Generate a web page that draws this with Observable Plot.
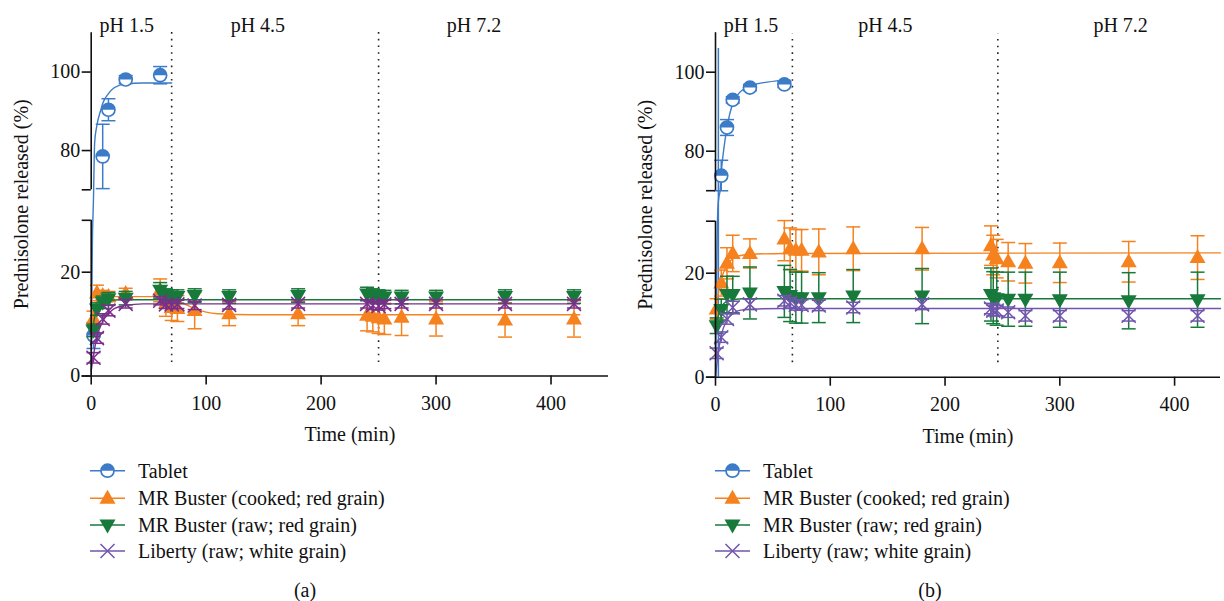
<!DOCTYPE html>
<html><head><meta charset="utf-8">
<script src="https://cdn.jsdelivr.net/npm/d3@7"></script>
<script src="https://cdn.jsdelivr.net/npm/@observablehq/plot@0.6"></script>
<style>
body{margin:0;background:#fff;}
#wrap{position:relative;width:1224px;height:601px;font-family:"Liberation Serif",serif;color:#111;}
#wrap svg{position:absolute;top:0;}
</style></head><body><div id="wrap"></div>
<script>
// ---------- shared labels ----------
const seriesNames = ["Tablet", "MR Buster (cooked; red grain)", "MR Buster (raw; red grain)", "Liberty (raw; white grain)"];
const colorsA = ["#3b7bc8", "#f5821f", "#177a3b", "#7b2e8c"];
const colorsB = ["#3b7bc8", "#f5821f", "#177a3b", "#7055ad"];
const phLabels = ["pH 1.5", "pH 4.5", "pH 7.2"];
const phLabelTimeA = [31, 145, 333];
const phLabelTimeB = [31, 148, 353];
const phSwitchA = [70, 250];
const phSwitchB = [67, 246];
const yTicks = [0, 20, 30, 70, 80, 100];
const yTickShown = [0, 20, 80, 100];
const xTicks = [0, 100, 200, 300, 400];
const yLabel = "Prednisolone released (%)";
const xLabel = "Time (min)";
const panelCaptions = ["(a)", "(b)"];

// ---------- panel (a) ----------
const tabletTimeA = [2, 10, 15, 30, 60];
const tabletMeanA = [7.8, 78.5, 90.4, 98.1, 99.2];
const tabletSdA = [2.5, 8.2, 2.8, 1.0, 2.2];
const riceTimeA = [2, 5, 10, 15, 30, 60, 65, 70, 75, 90, 120, 180, 240, 245, 250, 255, 270, 300, 360, 420];
const cookedMeanA = [11, 16, 15.5, 15.3, 15.9, 16.5, 14, 13.2, 13, 12.6, 12, 12, 11.7, 11.5, 11.2, 11, 11.3, 11, 10.8, 11];
const cookedSdA = [1.5, 1.5, 1, 1, 1, 2.2, 2.5, 2.5, 2.5, 3.5, 2.3, 2.3, 3, 3, 3, 3, 3.5, 3.3, 3.3, 3.5];
const rawMeanA = [8.8, 12.9, 14.2, 14.9, 15, 16.5, 15.5, 15.3, 15.3, 15.5, 15.3, 15.5, 15.8, 15.5, 15.3, 15.2, 15.2, 15.2, 15.3, 15.3];
const rawSdA = [1.2, 1.2, 1.2, 1.2, 1.3, 1.5, 1.3, 1.3, 1.3, 1.3, 1.3, 1.3, 1.3, 1.3, 1.3, 1.3, 1.3, 1.3, 1.3, 1.3];
const libMeanA = [3.5, 7.3, 11, 12.6, 13.9, 14.5, 13.8, 13.8, 13.8, 13.6, 13.7, 13.9, 13.9, 13.6, 13.5, 13.8, 13.9, 13.9, 13.9, 13.9];
const libSdA = [1, 1, 1, 1, 0.8, 0.8, 0.8, 0.8, 0.8, 0.8, 0.8, 0.8, 0.8, 0.8, 0.8, 0.8, 0.8, 0.8, 0.8, 0.8];
// fitted curves (a)
const tabletFitTimeA = [0, 1, 2, 3, 5, 8, 10, 15, 20, 30, 45, 70];
const tabletFitA = [0, 25, 60, 82, 86.5, 90, 92, 94.5, 96, 97, 97.2, 97.2];
const cookedFitTimeA = [0, 2, 5, 10, 20, 60, 70, 80, 90, 100, 110, 140, 425];
const cookedFitA = [8, 12, 14.5, 15.2, 15.3, 15.3, 15, 14, 13, 12.3, 12, 11.8, 11.8];
const rawFitTimeA = [0, 2, 5, 10, 15, 25, 425];
const rawFitA = [6, 10, 13, 14.3, 14.6, 14.7, 14.7];
const libFitTimeA = [0, 2, 5, 10, 15, 20, 30, 45, 425];
const libFitA = [1, 4, 7.5, 10.5, 12, 13, 13.6, 13.9, 13.9];

// ---------- panel (b) ----------
const tabletTimeB = [2.5, 5, 10, 15, 30, 60];
const tabletMeanB = [53, 73.8, 86, 93, 96.1, 96.9];
const tabletSdB = [53, 3.9, 2, 0.8, 0.8, 0.8];
const riceTimeB = [1, 5, 10, 15, 30, 60, 65, 70, 75, 90, 120, 180, 240, 242, 245, 255, 270, 300, 360, 420];
const cookedMeanB = [13.1, 18.1, 21.9, 23.8, 23.8, 26.6, 24.7, 24.4, 24.4, 24.1, 24.7, 24.7, 25.3, 23.5, 22.8, 22.2, 21.9, 22, 22.2, 23];
const cookedSdB = [2, 2.5, 3, 3.5, 2.8, 4.2, 4, 4, 4, 4.4, 4.2, 4.1, 3.8, 3.8, 3.7, 3.7, 3.8, 3.8, 3.9, 4.2];
const rawMeanB = [9.9, 13, 15.9, 15.9, 16.2, 16.5, 15.7, 15.3, 15.3, 15.3, 15.6, 15.6, 15.9, 15.3, 15.1, 15, 15, 14.9, 14.7, 14.9];
const rawSdB = [1.5, 2, 3.5, 3.5, 5, 5, 5, 4.9, 4.9, 4.8, 5.1, 5.3, 5.1, 5, 5.1, 5.2, 5.2, 5.3, 5.4, 5.3];
const libMeanB = [4.6, 7.7, 11.2, 13.4, 14, 14.7, 14.3, 13.9, 13.9, 13.8, 13.4, 14, 13.2, 12.8, 12.8, 12.5, 11.8, 11.8, 11.8, 11.8];
const libSdB = [1, 1, 1, 1.2, 1, 1, 1, 1, 1, 1, 1, 1, 1, 1, 1, 1, 1, 1, 1, 1];
// fitted curves (b)
const tabletFitTimeB = [0, 1, 2, 3, 4, 5, 7, 10, 15, 20, 30, 45, 65];
const tabletFitB = [0, 20, 45, 62, 70, 74.5, 80, 86, 92, 94.5, 96.5, 97.5, 98];
const cookedFitTimeB = [0, 2, 5, 10, 15, 20, 30, 60, 440];
const cookedFitB = [12.5, 15.5, 18.8, 21.5, 22.8, 23.3, 23.6, 23.8, 23.9];
const rawFitTimeB = [0, 2, 5, 10, 15, 25, 440];
const rawFitB = [9, 11.5, 13.5, 14.6, 14.9, 15.1, 15.1];
const libFitTimeB = [0, 2, 5, 10, 15, 20, 30, 60, 440];
const libFitB = [0, 4, 8, 11, 12.2, 12.8, 13.1, 13.2, 13.2];

// ---------- helpers ----------
const obs = (T, M, S) => T.map((t, i) => ({t, m: M[i], s: S[i]}));
const fit = (T, V) => T.map((t, i) => ({t, v: V[i]}));
const inGap = v => v > 30 && v < 70;

const capSym = {draw(c) { c.moveTo(-7, 0); c.lineTo(7, 0); }};
const upTri = {draw(c) { c.moveTo(0, -8.5); c.lineTo(8, 5.5); c.lineTo(-8, 5.5); c.closePath(); }};
const downTri = {draw(c) { c.moveTo(-8, -5.5); c.lineTo(8, -5.5); c.lineTo(0, 8.5); c.closePath(); }};
const crossSym = {draw(c) { c.moveTo(-7, -7); c.lineTo(7, 7); c.moveTo(7, -7); c.lineTo(-7, 7); }};
const halfTop = {draw(c) { const r = 6.5; c.moveTo(-r, 0); c.arc(0, 0, r, Math.PI, 2 * Math.PI); c.closePath(); }};

const W = 612, H = 450, FS = 20;
const FONT = "Liberation Serif, serif";

function seriesMarks(rows, curve, color, kind) {
  const shown = rows.filter(d => !inGap(d.m));
  const m = [
    Plot.line(curve, {x: "t", y: "v", stroke: color, strokeWidth: 1.4, curve: "monotone-x"}),
    Plot.ruleX(rows, {x: "t", y1: d => Math.max(0, d.m - d.s), y2: d => d.m + d.s, stroke: color, strokeWidth: 1.5}),
    Plot.dot(shown, {x: "t", y: d => d.m + d.s, symbol: capSym, r: 5, fill: "none", stroke: color, strokeWidth: 1.5}),
    Plot.dot(shown, {x: "t", y: d => Math.max(0, d.m - d.s), symbol: capSym, r: 5, fill: "none", stroke: color, strokeWidth: 1.5})
  ];
  if (kind === 0) {
    m.push(Plot.dot(shown, {x: "t", y: "m", symbol: "circle", r: 6.5, fill: "white", stroke: color, strokeWidth: 1.7}));
    m.push(Plot.dot(shown, {x: "t", y: "m", symbol: halfTop, r: 5, fill: color, stroke: "none"}));
  } else if (kind === 1) {
    m.push(Plot.dot(shown, {x: "t", y: "m", symbol: upTri, r: 5, fill: color, stroke: "none"}));
  } else if (kind === 2) {
    m.push(Plot.dot(shown, {x: "t", y: "m", symbol: downTri, r: 5, fill: color, stroke: "none"}));
  } else {
    m.push(Plot.dot(shown, {x: "t", y: "m", symbol: crossSym, r: 5, fill: "none", stroke: color, strokeWidth: 1.5}));
  }
  return m;
}

function panel(cfg) {
  const axisSegs = [{y1: 0, y2: 30}, {y1: 70, y2: 110}];
  return Plot.plot({
    width: W, height: H,
    marginLeft: cfg.marginLeft, marginRight: 4, marginTop: 32, marginBottom: H - cfg.yRange[0],
    style: {fontFamily: FONT, fontSize: FS + "px", color: "#111", background: "transparent"},
    x: {type: "linear", domain: [0, cfg.xMax]},
    y: {type: "linear", domain: [0, 30, 70, 110], range: cfg.yRange},
    marks: [
      Plot.ruleX(cfg.switches, {x: d => d, y1: cfg.dotBottom, y2: cfg.dotTop, stroke: "#222", strokeWidth: 1.6, strokeDasharray: "1.6,5.1"}),
      Plot.text(phLabels, {x: (d, i) => cfg.phT[i], text: d => d, frameAnchor: "top", lineAnchor: "middle", dy: -6.5, fontSize: FS, fill: "#111"}),
      ...seriesMarks(cfg.data[0], cfg.fits[0], cfg.colors[0], 0),
      ...seriesMarks(cfg.data[1], cfg.fits[1], cfg.colors[1], 1),
      ...seriesMarks(cfg.data[2], cfg.fits[2], cfg.colors[2], 2),
      ...seriesMarks(cfg.data[3], cfg.fits[3], cfg.colors[3], 3),
      Plot.ruleY([0], {x1: -8, x2: cfg.xMax, stroke: "#111", strokeWidth: 1.6}),
      Plot.ruleX(axisSegs, {x: 0, y1: "y1", y2: "y2", stroke: "#111", strokeWidth: 1.6}),
      Plot.axisY({ticks: yTicks, tickFormat: d => yTickShown.includes(d) ? String(d) : "", tickSize: 9, tickPadding: 2, fontSize: FS, label: null, strokeWidth: 1.6, stroke: "#111", fill: "#111"}),
      Plot.axisX({ticks: xTicks, tickSize: 9, tickPadding: 11, fontSize: FS, label: null, strokeWidth: 1.6, stroke: "#111", fill: "#111"}),
      Plot.text([yLabel], {text: d => d, frameAnchor: "left", textAnchor: "middle", lineAnchor: "middle", rotate: -90, dx: -70, fontSize: FS, fill: "#111"}),
      Plot.text([xLabel], {text: d => d, frameAnchor: "bottom", lineAnchor: "middle", dy: 59, fontSize: FS, fill: "#111"})
    ]
  });
}

const wrap = document.getElementById("wrap");

const chartA = panel({
  marginLeft: 90.7, xMax: 450,
  yRange: [375.5, 219.8, 189.3, 32.3],
  switches: phSwitchA, phT: phLabelTimeA, dotBottom: 2.6, dotTop: 111.3,
  colors: colorsA,
  data: [obs(tabletTimeA, tabletMeanA, tabletSdA), obs(riceTimeA, cookedMeanA, cookedSdA), obs(riceTimeA, rawMeanA, rawSdA), obs(riceTimeA, libMeanA, libSdA)],
  fits: [fit(tabletFitTimeA, tabletFitA), fit(cookedFitTimeA, cookedFitA), fit(rawFitTimeA, rawFitA), fit(libFitTimeA, libFitA)]
});
chartA.style.left = "0px";
wrap.appendChild(chartA);

const chartB = panel({
  marginLeft: 103, xMax: 440,
  yRange: [376.7, 220.7, 190.2, 32.2],
  switches: phSwitchB, phT: phLabelTimeB, dotBottom: 2.8, dotTop: 109.7,
  colors: colorsB,
  data: [obs(tabletTimeB, tabletMeanB, tabletSdB), obs(riceTimeB, cookedMeanB, cookedSdB), obs(riceTimeB, rawMeanB, rawSdB), obs(riceTimeB, libMeanB, libSdB)],
  fits: [fit(tabletFitTimeB, tabletFitB), fit(cookedFitTimeB, cookedFitB), fit(rawFitTimeB, rawFitB), fit(libFitTimeB, libFitB)]
});
chartB.style.left = "612px";
wrap.appendChild(chartB);

// ---------- legends and captions ----------
const leg = d3.select(wrap).append("svg")
  .attr("width", 1224).attr("height", 151)
  .style("top", "450px").style("left", "0px")
  .style("font-family", FONT).style("font-size", FS + "px");
const rowY = [20.7, 48.3, 75, 101];
const legendX = [90, 715];
const symPaths = [null, upTri, downTri, crossSym];
legendX.forEach((x0, p) => {
  seriesNames.forEach((name, i) => {
    const c = colorsB[i];
    const g = leg.append("g").attr("transform", `translate(${x0},${rowY[i]})`);
    g.append("line").attr("x1", 0).attr("x2", 35).attr("stroke", c).attr("stroke-width", 1.5);
    const mg = g.append("g").attr("transform", "translate(17.5,0)");
    if (i === 0) {
      mg.append("circle").attr("r", 6.5).attr("fill", "white").attr("stroke", c).attr("stroke-width", 1.7);
      mg.append("path").attr("d", d3.symbol(halfTop)()).attr("fill", c);
    } else if (i === 3) {
      mg.append("path").attr("d", d3.symbol(crossSym)()).attr("fill", "none").attr("stroke", c).attr("stroke-width", 1.5);
    } else {
      mg.append("path").attr("d", d3.symbol(symPaths[i])()).attr("fill", c);
    }
    g.append("text").attr("x", 48).attr("dy", "0.35em").attr("fill", "#111").text(name);
  });
});
const captionX = [305, 930];
panelCaptions.forEach((t, i) => {
  leg.append("text").attr("x", captionX[i]).attr("y", 140).attr("dy", "0.35em")
    .attr("text-anchor", "middle").attr("fill", "#111").text(t);
});
</script></body></html>
